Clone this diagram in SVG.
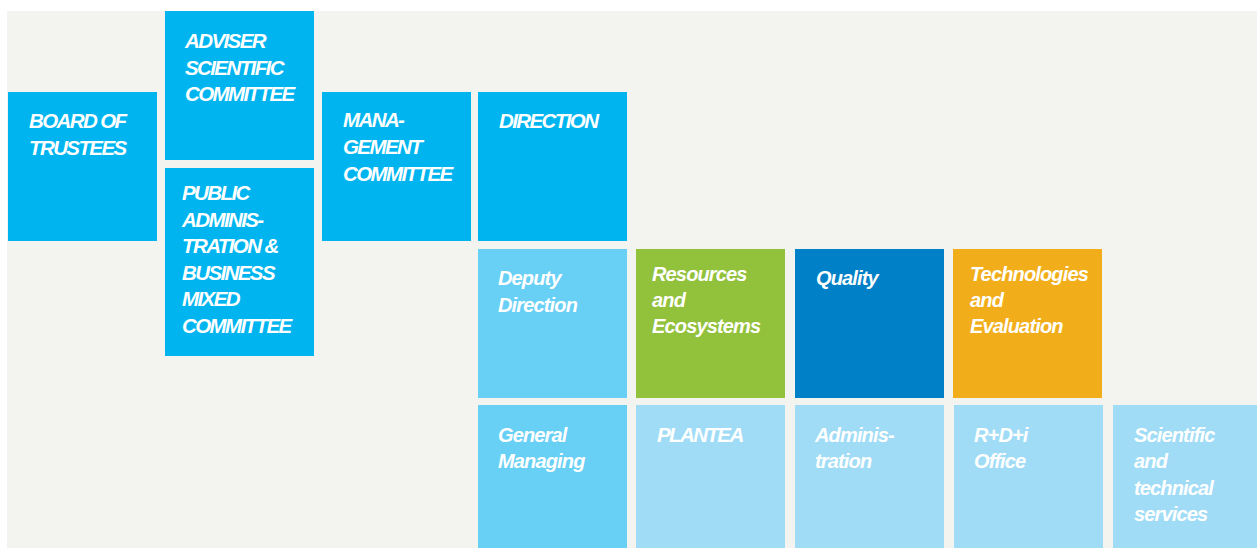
<svg xmlns="http://www.w3.org/2000/svg" width="1257" height="548" viewBox="0 0 1257 548">
<style>
.bg{fill:#f3f3ef}
.c1{fill:#00b5ef}
.c2{fill:#68cff5}
.c3{fill:#a0dcf6}
.cg{fill:#92c13b}
.cq{fill:#0080c6}
.co{fill:#f2ae1a}
text{fill:#ffffff;font-family:"Liberation Sans",Arial,sans-serif;font-weight:bold;font-style:italic;font-size:20px}
.cap{font-size:20.5px;letter-spacing:-1.6px}
.mix{letter-spacing:-0.85px}
</style>
<rect x="0" y="0" width="1257" height="548" fill="#ffffff"/>
<rect class="bg" x="7" y="11" width="1250" height="537"/>
<g id="board-of-trustees">
<rect class="c1" x="8" y="92" width="149" height="149"/>
<text class="cap" x="29" y="128">BOARD OF</text>
<text class="cap" x="29" y="155">TRUSTEES</text>
</g>
<g id="adviser-scientific-committee">
<rect class="c1" x="165" y="11" width="149" height="149"/>
<text class="cap" x="185" y="48">ADVISER</text>
<text class="cap" x="185" y="75">SCIENTIFIC</text>
<text class="cap" x="185" y="101">COMMITTEE</text>
</g>
<g id="public-administration-business">
<rect class="c1" x="165" y="168" width="149" height="188"/>
<text class="cap" x="182" y="200">PUBLIC</text>
<text class="cap" x="182" y="226.6">ADMINIS-</text>
<text class="cap" x="182" y="253.2">TRATION &amp;</text>
<text class="cap" x="182" y="279.8">BUSINESS</text>
<text class="cap" x="182" y="306.4">MIXED</text>
<text class="cap" x="182" y="333">COMMITTEE</text>
</g>
<g id="management-committee">
<rect class="c1" x="322" y="92" width="149" height="149"/>
<text class="cap" x="343" y="127">MANA-</text>
<text class="cap" x="343" y="154">GEMENT</text>
<text class="cap" x="343" y="181">COMMITTEE</text>
</g>
<g id="direction">
<rect class="c1" x="478" y="92" width="149" height="149"/>
<text class="cap" x="499" y="128">DIRECTION</text>
</g>
<g id="deputy-direction">
<rect class="c2" x="478" y="249" width="149" height="149"/>
<text class="mix" x="498" y="285">Deputy</text>
<text class="mix" x="498" y="312">Direction</text>
</g>
<g id="resources-ecosystems">
<rect class="cg" x="636" y="249" width="149" height="149"/>
<text class="mix" x="652" y="281">Resources</text>
<text class="mix" x="652" y="307">and</text>
<text class="mix" x="652" y="333">Ecosystems</text>
</g>
<g id="quality">
<rect class="cq" x="795" y="249" width="149" height="149"/>
<text class="mix" x="816" y="285">Quality</text>
</g>
<g id="technologies-evaluation">
<rect class="co" x="953" y="249" width="149" height="149"/>
<text class="mix" x="970" y="281">Technologies</text>
<text class="mix" x="970" y="307">and</text>
<text class="mix" x="970" y="333">Evaluation</text>
</g>
<g id="general-managing">
<rect class="c2" x="478" y="405" width="149" height="143"/>
<text class="mix" x="498" y="442">General</text>
<text class="mix" x="498" y="468">Managing</text>
</g>
<g id="plantea">
<rect class="c3" x="636" y="405" width="149" height="143"/>
<text class="cap" x="657" y="442">PLANTEA</text>
</g>
<g id="administration">
<rect class="c3" x="795" y="405" width="149" height="143"/>
<text class="mix" x="815" y="442">Adminis-</text>
<text class="mix" x="815" y="468">tration</text>
</g>
<g id="rdi-office">
<rect class="c3" x="954" y="405" width="149" height="143"/>
<text class="mix" x="974" y="442">R+D+i</text>
<text class="mix" x="974" y="468">Office</text>
</g>
<g id="scientific-technical-services">
<rect class="c3" x="1113" y="405" width="144" height="143"/>
<text class="mix" x="1134" y="442">Scientific</text>
<text class="mix" x="1134" y="468">and</text>
<text class="mix" x="1134" y="494.5">technical</text>
<text class="mix" x="1134" y="521">services</text>
</g>
<g id="connectors"></g>
</svg>
